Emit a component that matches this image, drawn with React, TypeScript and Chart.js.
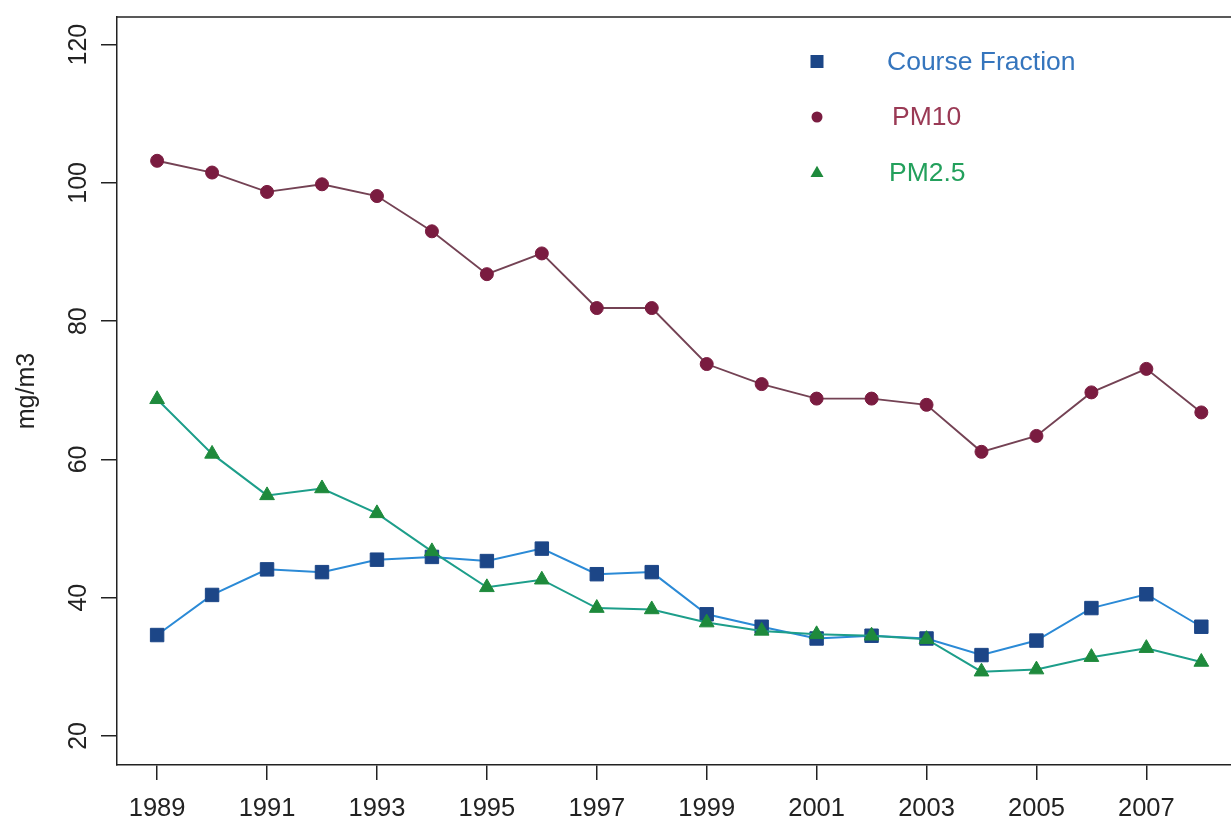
import { useEffect, useRef } from 'react';
import { Chart, registerables } from 'chart.js';

Chart.register(...registerables);

const years = [1989, 1990, 1991, 1992, 1993, 1994, 1995, 1996, 1997, 1998, 1999, 2000, 2001, 2002, 2003, 2004, 2005, 2006, 2007, 2008];
const courseFraction = [34.6, 40.4, 44.1, 43.7, 45.5, 45.9, 45.3, 47.1, 43.4, 43.7, 37.6, 35.8, 34.1, 34.5, 34.1, 31.7, 33.8, 38.5, 40.5, 35.8];
const pm10 = [103.2, 101.5, 98.7, 99.8, 98.1, 93.0, 86.8, 89.8, 81.9, 81.9, 73.8, 70.9, 68.8, 68.8, 67.9, 61.1, 63.4, 69.7, 73.1, 66.8];
const pm25 = [68.7, 60.8, 54.8, 55.8, 52.2, 46.7, 41.5, 42.6, 38.5, 38.3, 36.4, 35.2, 34.7, 34.5, 34.0, 29.3, 29.6, 31.4, 32.7, 30.7];
const xTickYears = [1989, 1991, 1993, 1995, 1997, 1999, 2001, 2003, 2005, 2007];
const yTickValues = [20, 40, 60, 80, 100, 120];
const seriesNames = ['Course Fraction', 'PM10', 'PM2.5'];
const yTitle = 'mg/m3';

const FONT = "'Liberation Sans', Arial, Helvetica, sans-serif";
const AXIS = '#222222';

const legendItems = [
  { label: seriesNames[0], shape: 'rect', fill: '#1c4687', text: '#3575bd', dx: 770 },
  { label: seriesNames[1], shape: 'circle', fill: '#7a1c40', text: '#9a3a55', dx: 775 },
  { label: seriesNames[2], shape: 'triangle', fill: '#1e8a3c', text: '#23a05c', dx: 772 },
];

function drawShape(ctx: CanvasRenderingContext2D, shape: string, x: number, y: number, s: number) {
  ctx.beginPath();
  if (shape === 'rect') {
    ctx.rect(x - s / 2, y - s / 2, s, s);
  } else if (shape === 'circle') {
    ctx.arc(x, y, s / 2, 0, Math.PI * 2);
  } else {
    const h = s * 0.87;
    ctx.moveTo(x, y - h * 0.6);
    ctx.lineTo(x + s / 2, y + h * 0.4);
    ctx.lineTo(x - s / 2, y + h * 0.4);
    ctx.closePath();
  }
  ctx.fill();
}

const framePlugin = {
  id: 'rframe',
  afterDatasetsDraw(chart: any) {
    const { ctx, chartArea } = chart;
    ctx.save();
    ctx.strokeStyle = AXIS;
    ctx.lineWidth = 1.5;
    ctx.beginPath();
    ctx.moveTo(chartArea.left, chartArea.top);
    ctx.lineTo(chart.width, chartArea.top);
    ctx.stroke();

    ctx.font = `26.5px ${FONT}`;
    ctx.textBaseline = 'middle';
    ctx.textAlign = 'left';
    legendItems.forEach((it, i) => {
      const y = chartArea.top + 44.5 + i * 55.5;
      ctx.fillStyle = it.fill;
      drawShape(ctx, it.shape, chartArea.left + 700, y, it.shape === 'circle' ? 11 : 13);
      ctx.fillStyle = it.text;
      ctx.fillText(it.label, chartArea.left + it.dx, y + 1);
    });
    ctx.restore();
  },
};

export default function App() {
  const ref = useRef<HTMLCanvasElement | null>(null);

  useEffect(() => {
    if (!ref.current) return;
    const pts = (arr: number[]) => years.map((y, i) => ({ x: y, y: arr[i] }));
    const chart = new Chart(ref.current, {
      type: 'line',
      data: {
        datasets: [
          {
            label: seriesNames[2],
            data: pts(pm25),
            borderColor: '#1d9e8a',
            borderWidth: 2,
            pointStyle: 'triangle',
            pointRadius: 8.5,
            pointBackgroundColor: '#1e8a3c',
            pointBorderColor: '#1e8a3c',
            pointBorderWidth: 1,
            tension: 0,
          },
          {
            label: seriesNames[0],
            data: pts(courseFraction),
            borderColor: '#2b8ad6',
            borderWidth: 2,
            pointStyle: 'rect',
            pointRadius: 9.5,
            pointBackgroundColor: '#1c4687',
            pointBorderColor: '#1c4687',
            pointBorderWidth: 1,
            tension: 0,
          },
          {
            label: seriesNames[1],
            data: pts(pm10),
            borderColor: '#744254',
            borderWidth: 1.9,
            pointStyle: 'circle',
            pointRadius: 6.5,
            pointBackgroundColor: '#7a1c40',
            pointBorderColor: '#7a1c40',
            pointBorderWidth: 1,
            tension: 0,
          },
        ],
      },
      options: {
        animation: false,
        responsive: false,
        devicePixelRatio: 1,
        layout: { autoPadding: false, padding: { top: 17, left: 0, right: 0, bottom: 0 } },
        plugins: {
          legend: { display: false },
          tooltip: { enabled: false },
        },
        scales: {
          x: {
            type: 'linear',
            min: 1988.27,
            max: 2008.54,
            afterBuildTicks: (s: any) => {
              s.ticks = xTickYears.map((v) => ({ value: v }));
            },
            afterFit: (s: any) => {
              s.height = 57;
              s.paddingLeft = 0;
              s.paddingRight = 0;
            },
            ticks: {
              autoSkip: false,
              maxRotation: 0,
              minRotation: 0,
              padding: 14,
              color: AXIS,
              font: { size: 25.5, family: FONT },
              callback: (v: any) => String(v),
            },
            grid: {
              display: true,
              drawOnChartArea: false,
              drawTicks: true,
              tickLength: 15,
              color: AXIS,
              lineWidth: 1.5,
            },
            border: { display: true, color: AXIS, width: 1.5 },
          },
          y: {
            type: 'linear',
            min: 15.8,
            max: 124,
            afterBuildTicks: (s: any) => {
              s.ticks = yTickValues.map((v) => ({ value: v }));
            },
            afterFit: (s: any) => {
              s.width = 117;
              s.paddingTop = 0;
              s.paddingBottom = 0;
            },
            ticks: {
              autoSkip: false,
              minRotation: 90,
              maxRotation: 90,
              crossAlign: 'center',
              padding: 1,
              color: AXIS,
              font: { size: 25, family: FONT },
              callback: (v: any) => String(v),
            },
            grid: {
              display: true,
              drawOnChartArea: false,
              drawTicks: true,
              tickLength: 16,
              color: AXIS,
              lineWidth: 1.5,
            },
            border: { display: true, color: AXIS, width: 1.5 },
            title: {
              display: true,
              text: yTitle,
              color: AXIS,
              font: { size: 25, family: FONT },
              padding: { top: 12, bottom: 0 },
            },
          },
        },
      },
      plugins: [framePlugin],
    } as any);
    return () => chart.destroy();
  }, []);

  return (
    <div style={{ position: 'fixed', left: 0, top: 0, width: 1231, height: 822, background: '#ffffff' }}>
      <canvas ref={ref} width={1231} height={822} style={{ display: 'block', width: 1231, height: 822 }} />
    </div>
  );
}
